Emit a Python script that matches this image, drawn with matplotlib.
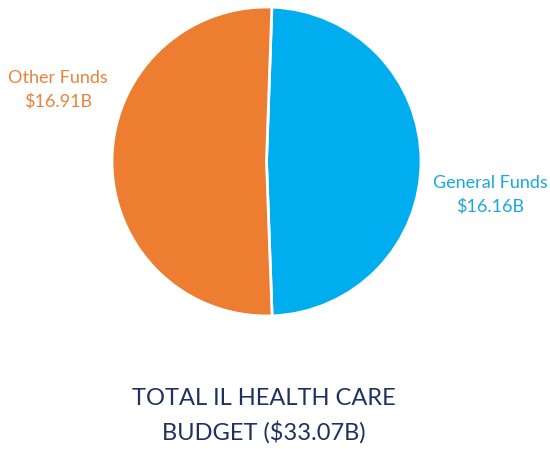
import matplotlib.pyplot as plt

labels = ["General Funds", "Other Funds"]
values = [16.16, 16.91]
colors = ["#00AEEF", "#ED7D31"]
label_colors = ["#1AA7E0", "#E8833A"]
total = sum(values)

W, H = 550, 449
fig = plt.figure(figsize=(5.5, 4.49), dpi=100)

# pie axes: circle centre ~ (266.5, 161.5) px, radius ~154.5 px
ax = fig.add_axes([112 / W, (H - 316) / H, 309 / W, 309 / H])
ax.pie(values, colors=colors, startangle=88, counterclock=False, radius=1,
       wedgeprops=dict(edgecolor="white", linewidth=2))
ax.set_xlim(-1, 1)
ax.set_ylim(-1, 1)
ax.set_aspect("equal")
ax.axis("off")

font = "Lato"
# label positions in px (x, y from top)
pos = {"General Funds": (490, 195), "Other Funds": (58, 90)}
for lab, val, c in zip(labels, values, label_colors):
    x, y = pos[lab]
    fig.text(x / W, 1 - y / H, f"{lab}\n${val:.2f}B", color=c, fontsize=13,
             family=font, ha="center", va="center", linespacing=1.55)

fig.text(264 / W, 1 - 416 / H, f"TOTAL IL HEALTH CARE\nBUDGET (${total:.2f}B)",
         color="#1E3160", fontsize=17, family=font, ha="center", va="center",
         linespacing=1.6)

fig.savefig("out.png", dpi=100, facecolor="white")
